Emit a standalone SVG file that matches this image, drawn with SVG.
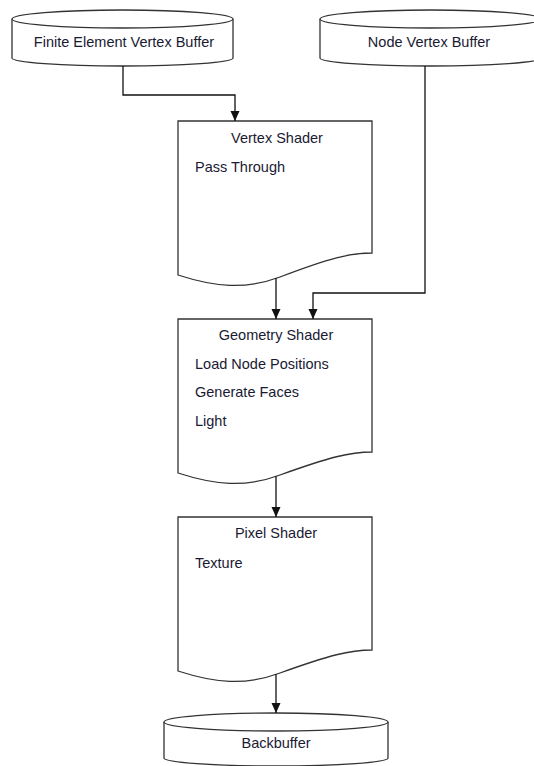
<svg xmlns="http://www.w3.org/2000/svg" width="534" height="766" viewBox="0 0 534 766">
<defs>
<style>
.shape{fill:#fff;stroke:#333;stroke-width:1.3}
.line{fill:none;stroke:#111;stroke-width:1.3}
.t{font-family:"Liberation Sans",Arial,sans-serif;font-size:14.5px;fill:#1a1a33}
.c{text-anchor:middle}
</style>
<marker id="arr" viewBox="0 0 10 10" refX="10" refY="5" markerWidth="10" markerHeight="10" markerUnits="userSpaceOnUse" orient="auto">
<path d="M0,0.5 L10,5 L0,9.5 Z" fill="#111"/>
</marker>
</defs>
<rect width="534" height="766" fill="#fff"/>
<g id="fevb">
<path class="shape" d="M12,19 V58 A110.5,8 0 0 0 233,58 V19 A110.5,9 0 0 0 12,19 Z"/>
<path class="shape" fill="none" d="M12,19 A110.5,9 0 0 0 233,19"/>
<text class="t c" x="124" y="47">Finite Element Vertex Buffer</text>
</g>
<g id="nvb">
<path class="shape" d="M320,19 V58 A110.5,8 0 0 0 541,58 V19 A110.5,9 0 0 0 320,19 Z"/>
<path class="shape" fill="none" d="M320,19 A110.5,9 0 0 0 541,19"/>
<text class="t c" x="429" y="47">Node Vertex Buffer</text>
</g>
<g id="vs">
<path class="shape" d="M178,121 H372 V253 C350,253 330,258 280,277 C245,290 215,287 178,275 Z"/>
<text class="t c" x="277" y="143">Vertex Shader</text>
<text class="t" x="195" y="172">Pass Through</text>
</g>
<g id="gs">
<path class="shape" d="M178,319 H372 V452 C350,452 330,457 280,475 C245,488 215,485 178,473 Z"/>
<text class="t c" x="276" y="340">Geometry Shader</text>
<text class="t" x="195" y="369">Load Node Positions</text>
<text class="t" x="195" y="397">Generate Faces</text>
<text class="t" x="195" y="426">Light</text>
</g>
<g id="ps">
<path class="shape" d="M178,517 H372 V650 C350,650 330,655 280,673 C245,686 215,683 178,671 Z"/>
<text class="t c" x="276" y="538">Pixel Shader</text>
<text class="t" x="195" y="568">Texture</text>
</g>
<g id="bb">
<path class="shape" d="M164,722 V758 A112,8 0 0 0 388,758 V722 A112,9 0 0 0 164,722 Z"/>
<path class="shape" fill="none" d="M164,722 A112,9 0 0 0 388,722"/>
<text class="t c" x="276" y="748">Backbuffer</text>
</g>
<g id="connectors">
<path class="line" marker-end="url(#arr)" d="M123,66 V95 H235 V121"/>
<path class="line" marker-end="url(#arr)" d="M425,66 V293 H313 V319"/>
<path class="line" marker-end="url(#arr)" d="M276,278 V319"/>
<path class="line" marker-end="url(#arr)" d="M276,476 V517"/>
<path class="line" marker-end="url(#arr)" d="M276,674 V713"/>
</g>
</svg>
